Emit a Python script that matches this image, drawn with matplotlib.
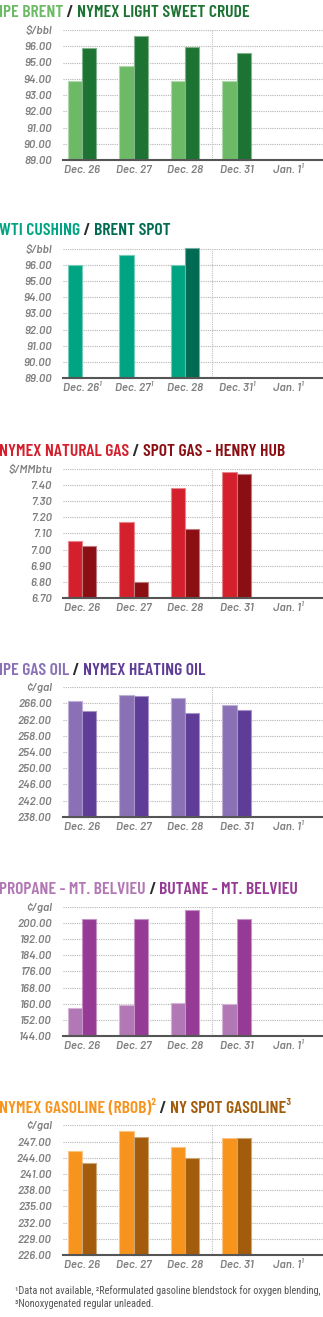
import matplotlib
matplotlib.use("Agg")
import matplotlib.pyplot as plt
import matplotlib.colors as mc
import numpy as np
from matplotlib import font_manager

nan = np.nan

# ---------------- data ----------------
categories = ["Dec. 26", "Dec. 27", "Dec. 28", "Dec. 31", "Jan. 1\u00b9"]
categories_wti = ["Dec. 26\u00b9", "Dec. 27\u00b9", "Dec. 28", "Dec. 31\u00b9", "Jan. 1\u00b9"]

ipe_brent = [93.89, 94.79, 93.85, 93.85, nan]
nymex_crude = [95.92, 96.61, 95.96, 95.59, nan]

wti_cushing = [96.00, 96.60, 96.00, nan, nan]
brent_spot = [nan, nan, 97.05, nan, nan]

nymex_natgas = [7.05, 7.17, 7.38, 7.48, nan]
henry_hub = [7.02, 6.80, 7.13, 7.465, nan]

ipe_gasoil = [266.7, 268.2, 267.3, 265.6, nan]
nymex_heating = [264.1, 267.9, 263.7, 264.4, nan]

propane = [157.7, 159.2, 160.1, 159.8, nan]
butane = [201.8, 201.8, 206.3, 202.1, nan]

nymex_rbob = [245.3, 249.0, 245.9, 247.6, nan]
ny_spot_gasoline = [243.0, 247.8, 244.0, 247.7, nan]

ticks_crude = [89, 90, 91, 92, 93, 94, 95, 96, 97]
ticks_natgas = [6.70, 6.80, 6.90, 7.00, 7.10, 7.20, 7.30, 7.40, 7.50]
ticks_gasoil = [238, 242, 246, 250, 254, 258, 262, 266, 270]
ticks_ngl = [144, 152, 160, 168, 176, 184, 192, 200, 208]
ticks_gasoline = [226, 229, 232, 235, 238, 241, 244, 247, 250]

units = ["\\$/bbl", "\\$/bbl", "\\$/MMbtu", "\u00a2/gal", "\u00a2/gal", "\u00a2/gal"]

titles = [
    ("IPE BRENT", "NYMEX LIGHT SWEET CRUDE"),
    ("WTI CUSHING", "BRENT SPOT"),
    ("NYMEX NATURAL GAS", "SPOT GAS - HENRY HUB"),
    ("IPE GAS OIL", "NYMEX HEATING OIL"),
    ("PROPANE - MT. BELVIEU", "BUTANE - MT. BELVIEU"),
    ("NYMEX GASOLINE (RBOB)\u00b2", "NY SPOT GASOLINE\u00b3"),
]

footnote_1 = "\u00b9Data not available, \u00b2Reformulated gasoline blendstock for oxygen blending,"
footnote_2 = "\u00b3Nonoxygenated regular unleaded."

# ---------------- fonts ----------------
names = {f.name for f in font_manager.fontManager.ttflist}

def pick(*cands):
    for c in cands:
        if c in names:
            return c
    return "DejaVu Sans"

TITLE_FONT = pick("Barlow Condensed", "Fjalla One", "Oswald", "Roboto Condensed",
                  "Liberation Sans Narrow", "Liberation Sans")
TICK_FONT = pick("Barlow", "Roboto", "Liberation Sans")
NOTE_FONT = pick("Roboto Condensed", "Barlow Semi Condensed", "Barlow Condensed",
                 "Liberation Sans Narrow", "Liberation Sans")

colors = [
    ("#6cba65", "#1d7332"),
    ("#00a482", "#006b52"),
    ("#d4202c", "#8a0e12"),
    ("#8a71b5", "#5e3c97"),
    ("#b277b5", "#953b95"),
    ("#f7941e", "#a25c0c"),
]

W, H = 323, 1317
fig = plt.figure(figsize=(W / 100, H / 100), dpi=100)
fig.patch.set_facecolor("white")

boxes = [(30, 160), (248.7, 378), (468.7, 598), (687.3, 816.7), (906.7, 1036), (1125.3, 1255)]
title_base = [17, 235, 456, 675, 894, 1113]
AX_L, AX_R = 63, 323

panels = [
    (ipe_brent, nymex_crude, ticks_crude, categories),
    (wti_cushing, brent_spot, ticks_crude, categories_wti),
    (nymex_natgas, henry_hub, ticks_natgas, categories),
    (ipe_gasoil, nymex_heating, ticks_gasoil, categories),
    (propane, butane, ticks_ngl, categories),
    (nymex_rbob, ny_spot_gasoline, ticks_gasoline, categories),
]

def lighten(c, f=0.45):
    r, g, b = mc.to_rgb(c)
    return (r + (1 - r) * f, g + (1 - g) * f, b + (1 - b) * f)

x = np.arange(len(categories))
bw = 0.28
tick_font = dict(family=[TICK_FONT, "DejaVu Sans"], style="italic", weight="semibold",
                 color="#808080")

for i, (light, dark, ticks, cats) in enumerate(panels):
    top, bot = boxes[i]
    ax = fig.add_axes([AX_L / W, 1 - bot / H, (AX_R - AX_L) / W, (bot - top) / H])
    cl, cd = colors[i]
    base = ticks[0]
    ax.bar(x - bw / 2, np.array(light) - base, bottom=base, width=bw, color=cl,
           edgecolor=lighten(cl), linewidth=0.8, clip_on=False, zorder=3)
    ax.bar(x + bw / 2, np.array(dark) - base, bottom=base, width=bw, color=cd,
           edgecolor=lighten(cd), linewidth=0.8, clip_on=False, zorder=3)
    ax.set_xlim(-0.37, 4.68)
    ax.set_ylim(ticks[0], ticks[-1])
    ax.set_yticks(ticks)
    labels = ["%.2f" % t for t in ticks[:-1]] + [units[i]]
    ax.set_yticklabels(labels, fontsize=8.3, **tick_font)
    ax.set_xticks(x)
    ax.set_xticklabels(cats, fontsize=8.3, **tick_font)
    ax.tick_params(axis="y", length=0, pad=8)
    ax.tick_params(axis="x", length=0, pad=3.5)
    for t in ticks[1:]:
        ax.axhline(t, color="#b5b5b5", lw=0.8, ls=(0, (1, 1)), zorder=1)
    ax.axvline(2.52, color="#c0c0c0", lw=0.8, ls=(0, (1, 1)), zorder=1)
    for s in ["top", "right", "left"]:
        ax.spines[s].set_visible(False)
    ax.spines["bottom"].set_color("#555555")
    ax.spines["bottom"].set_linewidth(1.5)
    ax.spines["bottom"].set_zorder(4)
    ax.set_facecolor("none")

fig.canvas.draw()
renderer = fig.canvas.get_renderer()

TKW = dict(family=[TITLE_FONT, "DejaVu Sans"], fontweight="semibold")

# fit the title size so the first title spans ~250 px like the reference
probe = fig.text(0, 0, titles[0][0] + " / " + titles[0][1], fontsize=10, **TKW)
tw = probe.get_window_extent(renderer).width
probe.remove()
TSIZE = 10 * 250 / tw

def multicolor(xpx, ypx, parts, size):
    xx = xpx
    for txt, col in parts:
        t = fig.text(xx / W, 1 - ypx / H, txt, color=col, fontsize=size,
                     ha="left", va="baseline", **TKW)
        bb = t.get_window_extent(renderer)
        xx += bb.width

for i, (a, b) in enumerate(titles):
    cl, cd = colors[i]
    multicolor(-1, title_base[i], [(a, cl), (" / ", "#2b2b2b"), (b, cd)], TSIZE)

NKW = dict(family=[NOTE_FONT, "DejaVu Sans"], color="#555555", ha="left", va="baseline")
probe = fig.text(0, 0, footnote_1, fontsize=10, **NKW)
nw = probe.get_window_extent(renderer).width
probe.remove()
NSIZE = min(8.0, 10 * 306 / nw)

fig.text(15 / W, 1 - 1294 / H, footnote_1, fontsize=NSIZE, **NKW)
fig.text(15 / W, 1 - 1307 / H, footnote_2, fontsize=NSIZE, **NKW)

fig.savefig("out.png", dpi=100, facecolor="white")
